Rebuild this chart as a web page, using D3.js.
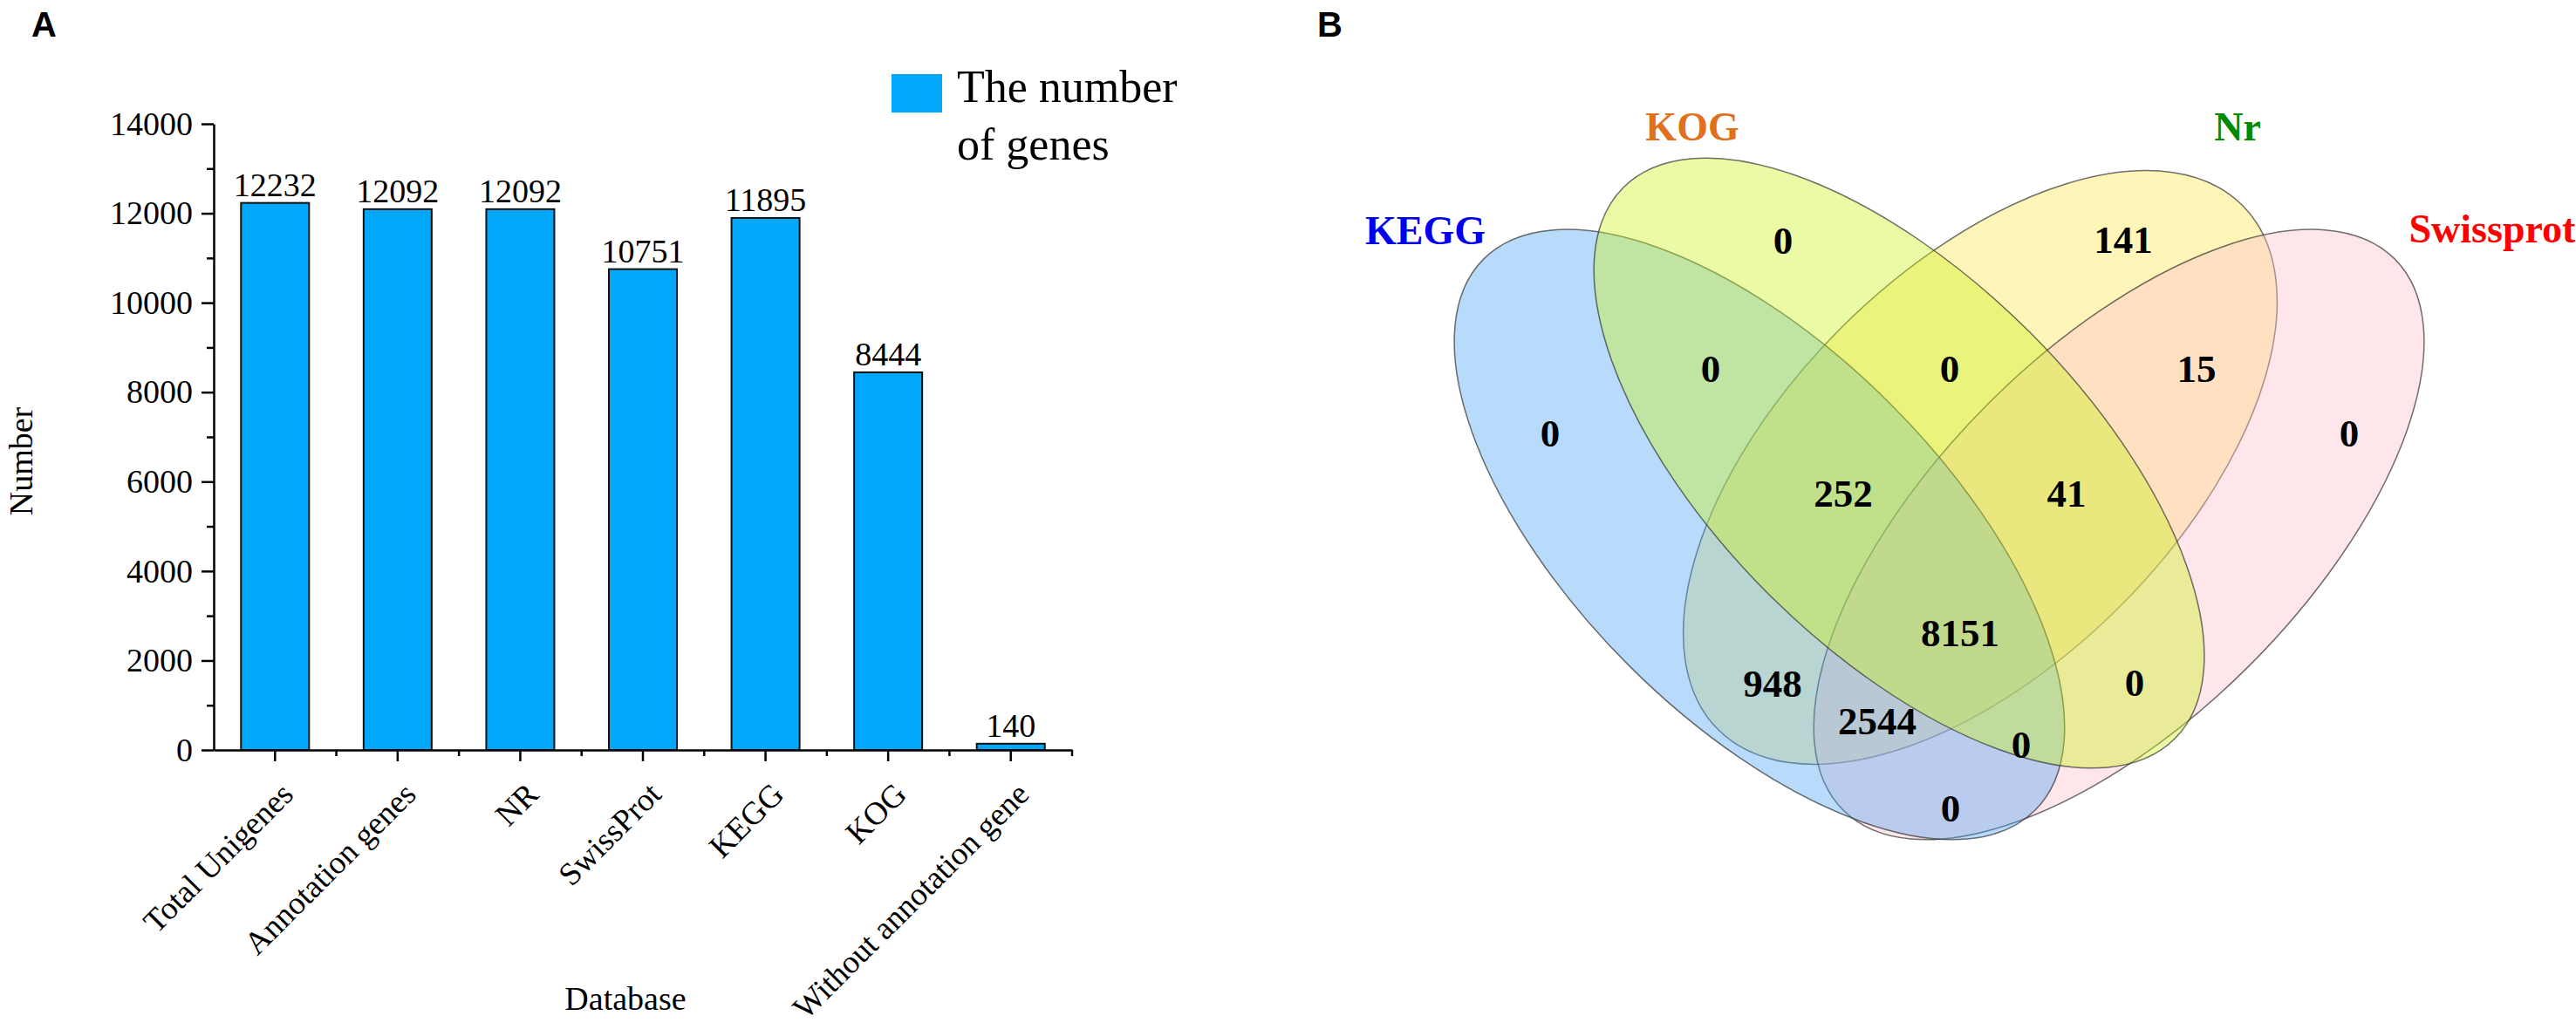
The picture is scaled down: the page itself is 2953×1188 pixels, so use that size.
<!DOCTYPE html>
<html>
<head>
<meta charset="utf-8">
<script src="https://cdn.jsdelivr.net/npm/d3@7"></script>
<style>
  body { margin: 0; background: #fff; }
  svg { display: block; }
</style>
</head>
<body>
<svg></svg>
<script>
let width = 2953, height = 1188;

// Panel A data
const categories = ["Total Unigenes", "Annotation genes", "NR", "SwissProt", "KEGG", "KOG", "Without annotation gene"];
const geneCounts = [12232, 12092, 12092, 10751, 11895, 8444, 140];
const yMajorTicks = [0, 2000, 4000, 6000, 8000, 10000, 12000, 14000];
const yMinorTicks = [1000, 3000, 5000, 7000, 9000, 11000, 13000];
const legendLabel = ["The number", "of genes"];

// Panel B data
const vennSets = ["KEGG", "KOG", "Nr", "Swissprot"];
const vennSetColors = ["#0000ee", "#e07020", "#008a00", "#ff0000"];
const vennFills = ["#50a5f5", "#caf21e", "#ffe650", "#ffc0cb"];
const vennRegions = ["KEGG", "KOG", "Nr", "Swissprot",
  "KEGG&KOG", "KOG&Nr", "Nr&Swissprot",
  "KEGG&KOG&Nr", "KOG&Nr&Swissprot", "KEGG&KOG&Nr&Swissprot",
  "KEGG&Nr", "KEGG&Nr&Swissprot", "KOG&Swissprot", "KEGG&KOG&Swissprot", "KEGG&Swissprot"];
const vennCounts = [0, 0, 141, 0, 0, 0, 15, 252, 41, 8151, 948, 2544, 0, 0, 0];

// Venn layout in unit coordinates (ellipse centre, semi-axes, tilt)
const ellipseLayout = [
  {set: "KEGG", cx: 0.3283, cy: 0.4983, a: 0.3725, b: 0.1767, angle: 45},
  {set: "KOG", cx: 0.4617, cy: 0.4300, a: 0.3725, b: 0.1767, angle: 45},
  {set: "Nr", cx: 0.5392, cy: 0.4342, a: 0.3542, b: 0.1883, angle: -45},
  {set: "Swissprot", cx: 0.6717, cy: 0.4983, a: 0.3725, b: 0.1767, angle: -45}
];
const drawOrder = ["Nr", "Swissprot", "KEGG", "KOG"];
const regionLayout = [
  [0.1283, 0.4008], [0.3508, 0.2167], [0.6758, 0.2158], [0.8917, 0.4008],
  [0.2817, 0.3392], [0.5100, 0.3392], [0.7458, 0.3392],
  [0.4083, 0.4583], [0.6217, 0.4583], [0.5200, 0.5917],
  [0.3408, 0.6400], [0.4408, 0.6758], [0.6867, 0.6392], [0.5783, 0.6983], [0.5108, 0.7592]
];
const setLabelLayout = [[0.0092, 0.2208], [0.2642, 0.1217], [0.7850, 0.1217], [1.0283, 0.2192]];

let svg = d3.select("svg")
  .attr("width", width)
  .attr("height", height)
  .attr("viewBox", "0 0 " + width + " " + height);

const serif = "'Liberation Serif', 'Times New Roman', serif";
const sans = "'Liberation Sans', Arial, sans-serif";
const barColor = "#02a7fa";

// Panel letters
svg.append("text").attr("x", 36).attr("y", 42)
  .style("font-family", sans).style("font-weight", "bold").style("font-size", "40px")
  .text("A");
svg.append("text").attr("x", 1510).attr("y", 42)
  .style("font-family", sans).style("font-weight", "bold").style("font-size", "40px")
  .text("B");

// ---------- Panel A: bar chart ----------
let x = d3.scaleBand()
  .domain(categories)
  .range([245, 1229])
  .paddingInner(0.445)
  .paddingOuter(0.2225);

let y = d3.scaleLinear()
  .domain([0, 14000])
  .range([860, 142]);

let chartA = svg.append("g").attr("id", "barchart");

// bars
chartA.append("g")
  .selectAll("rect")
  .data(geneCounts)
  .enter()
  .append("rect")
  .attr("x", (d, i) => x(categories[i]))
  .attr("y", d => y(d))
  .attr("width", x.bandwidth())
  .attr("height", d => y(0) - y(d))
  .attr("fill", barColor)
  .attr("stroke", "#111")
  .attr("stroke-width", 2);

// value labels
chartA.append("g")
  .selectAll("text")
  .data(geneCounts)
  .enter()
  .append("text")
  .attr("x", (d, i) => x(categories[i]) + x.bandwidth() / 2)
  .attr("y", d => y(d) - 8)
  .attr("text-anchor", "middle")
  .style("font-family", serif)
  .style("font-size", "38px")
  .text(d => d);

// y axis
let yAxis = chartA.append("g")
  .attr("transform", "translate(245,0)")
  .call(d3.axisLeft(y).tickValues(yMajorTicks).tickFormat(d3.format("d"))
    .tickSize(14).tickPadding(10).tickSizeOuter(0));
yAxis.select(".domain").attr("stroke-width", 2.5);
yAxis.selectAll(".tick line").attr("stroke-width", 2.5);
yAxis.selectAll(".tick text")
  .style("font-family", serif)
  .style("font-size", "38px")
  .attr("fill", "#000");

let yMinor = chartA.append("g")
  .attr("transform", "translate(245,0)")
  .call(d3.axisLeft(y).tickValues(yMinorTicks).tickSize(8).tickFormat(""));
yMinor.select(".domain").remove();
yMinor.selectAll(".tick line").attr("stroke-width", 2.5);

// x axis
let xAxis = chartA.append("g")
  .attr("transform", "translate(0," + y(0) + ")")
  .call(d3.axisBottom(x).tickSize(13).tickFormat("").tickSizeOuter(0));
xAxis.select(".domain").attr("stroke-width", 2.5);
xAxis.selectAll(".tick line").attr("stroke-width", 2.5);

// minor x ticks at the band boundaries
let boundaries = categories.map(c => x(c) - (x.step() - x.bandwidth()) / 2);
boundaries.push(x.range()[1]);
chartA.append("g")
  .selectAll("line")
  .data(boundaries.slice(1))
  .enter()
  .append("line")
  .attr("x1", d => d).attr("x2", d => d)
  .attr("y1", y(0)).attr("y2", y(0) + 7)
  .attr("stroke", "#000")
  .attr("stroke-width", 2.5);

// rotated category labels
chartA.append("g")
  .selectAll("text")
  .data(categories)
  .enter()
  .append("text")
  .attr("transform", d => "translate(" + (x(d) + x.bandwidth() / 2 + 23) + "," + 913 + ") rotate(-45)")
  .attr("text-anchor", "end")
  .style("font-family", serif)
  .style("font-size", "37px")
  .text(d => d);

// axis titles
chartA.append("text")
  .attr("x", 717).attr("y", 1158)
  .attr("text-anchor", "middle")
  .style("font-family", serif).style("font-size", "38px")
  .text("Database");

chartA.append("text")
  .attr("transform", "translate(37,529) rotate(-90)")
  .attr("text-anchor", "middle")
  .style("font-family", serif).style("font-size", "38px")
  .text("Number");

// legend
let legend = chartA.append("g").attr("id", "legend");
legend.append("rect")
  .attr("x", 1022).attr("y", 85)
  .attr("width", 58).attr("height", 44)
  .attr("fill", barColor);
legend.selectAll("text")
  .data(legendLabel)
  .enter()
  .append("text")
  .attr("x", 1097)
  .attr("y", (d, i) => 117 + i * 66)
  .style("font-family", serif)
  .style("font-size", "52px")
  .text(d => d);

// ---------- Panel B: Venn diagram ----------
let vx = d3.scaleLinear().domain([0, 1]).range([1623, 2823]);
let vy = d3.scaleLinear().domain([0, 1]).range([15, 1215]);
let unit = d => vx(d) - vx(0);

let colorOf = d3.scaleOrdinal().domain(vennSets).range(vennFills);
let labelColor = d3.scaleOrdinal().domain(vennSets).range(vennSetColors);

let venn = svg.append("g").attr("id", "venn");

venn.append("g")
  .selectAll("ellipse")
  .data(drawOrder.map(s => ellipseLayout.find(e => e.set === s)))
  .enter()
  .append("ellipse")
  .attr("transform", d => "translate(" + vx(d.cx) + "," + vy(d.cy) + ") rotate(" + d.angle + ")")
  .attr("rx", d => unit(d.a))
  .attr("ry", d => unit(d.b))
  .attr("fill", d => colorOf(d.set))
  .attr("fill-opacity", 0.4)
  .attr("stroke", "#333")
  .attr("stroke-opacity", 0.7)
  .attr("stroke-width", 1.5);

// region counts
venn.append("g")
  .selectAll("text")
  .data(vennCounts)
  .enter()
  .append("text")
  .attr("x", (d, i) => vx(regionLayout[i][0]))
  .attr("y", (d, i) => vy(regionLayout[i][1]))
  .attr("dy", "0.35em")
  .attr("text-anchor", "middle")
  .style("font-family", serif)
  .style("font-weight", "bold")
  .style("font-size", "45px")
  .text(d => d);

// set names
venn.append("g")
  .selectAll("text")
  .data(vennSets)
  .enter()
  .append("text")
  .attr("x", (d, i) => vx(setLabelLayout[i][0]))
  .attr("y", (d, i) => vy(setLabelLayout[i][1]))
  .attr("text-anchor", "middle")
  .attr("fill", d => labelColor(d))
  .style("font-family", serif)
  .style("font-weight", "bold")
  .style("font-size", "46px")
  .text(d => d);
</script>
</body>
</html>
